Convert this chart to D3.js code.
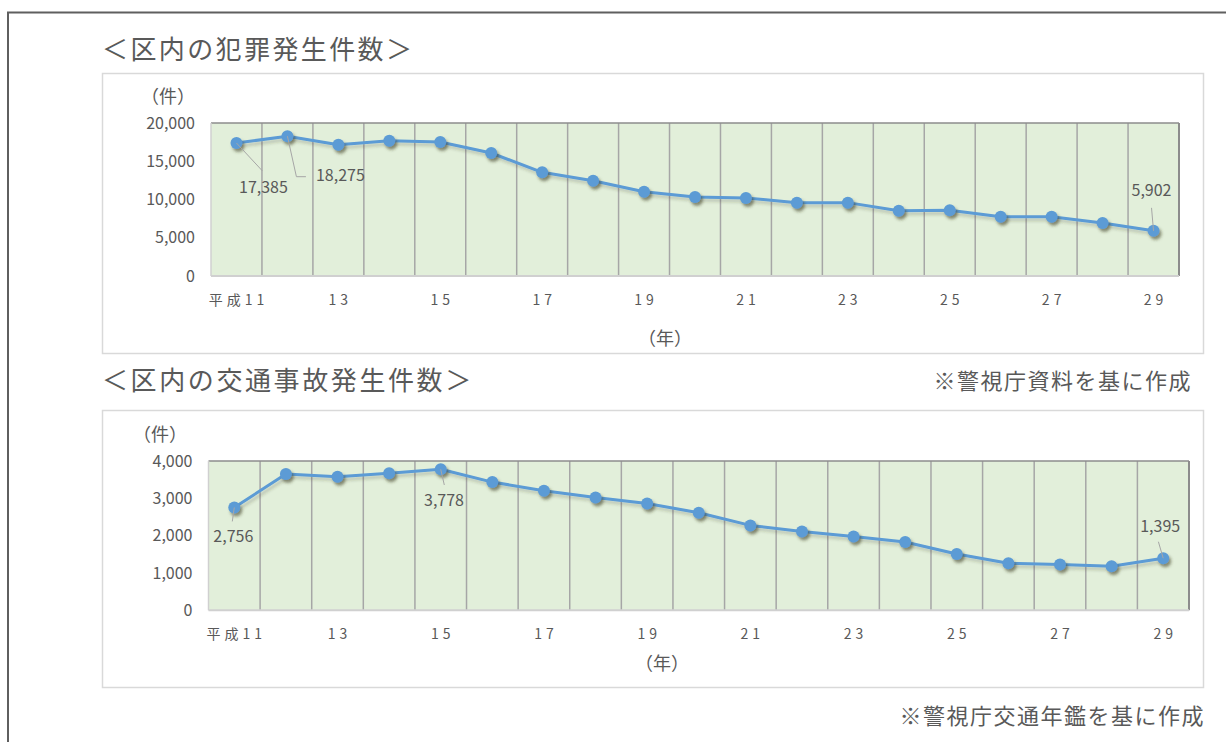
<!DOCTYPE html>
<html lang="ja">
<head>
<meta charset="utf-8">
<script src="https://cdn.jsdelivr.net/npm/d3@7"></script>
<style>
  html, body { margin: 0; padding: 0; background: #ffffff; }
  svg { display: block; }
  text { font-family: "Noto Sans CJK JP", "Noto Sans", sans-serif; fill: #595959; }
</style>
</head>
<body>
<svg id="chart" width="1226" height="742"></svg>
<script>
// Fiscal years (Heisei era) shown on both panels
const years = [11, 12, 13, 14, 15, 16, 17, 18, 19, 20, 21, 22, 23, 24, 25, 26, 27, 28, 29];
const yearTickLabels = ["平成11", "13", "15", "17", "19", "21", "23", "25", "27", "29"];
const yearTickValues = [11, 13, 15, 17, 19, 21, 23, 25, 27, 29];

// Crimes reported in the ward
const crimeCounts = [17385, 18275, 17170, 17690, 17520, 16080, 13550, 12460, 11020, 10330,
                     10200, 9590, 9590, 8540, 8580, 7750, 7750, 6930, 5902];
const crimeTicks = [0, 5000, 10000, 15000, 20000];

// Traffic accidents in the ward
const accidentCounts = [2756, 3650, 3580, 3670, 3778, 3435, 3205, 3025, 2860, 2615,
                        2275, 2110, 1975, 1830, 1510, 1260, 1225, 1180, 1395];
const accidentTicks = [0, 1000, 2000, 3000, 4000];

const svg = d3.select("#chart");
const fmt = d3.format(",");

// soft shadows under the series
const defs = svg.append("defs");
const markerShadow = defs.append("filter").attr("id", "markerShadow")
  .attr("x", "-50%").attr("y", "-50%").attr("width", "200%").attr("height", "200%");
markerShadow.append("feDropShadow").attr("dx", 2).attr("dy", 3).attr("stdDeviation", 1.6)
  .attr("flood-color", "#3a3a20").attr("flood-opacity", 0.55);
const lineShadow = defs.append("filter").attr("id", "lineShadow")
  .attr("x", "-5%").attr("y", "-20%").attr("width", "110%").attr("height", "140%");
lineShadow.append("feDropShadow").attr("dx", 2).attr("dy", 3).attr("stdDeviation", 1.8)
  .attr("flood-color", "#3a3a20").attr("flood-opacity", 0.22);

// outer frame
svg.append("path")
  .attr("d", "M8,745 L8,12.5 L1230,12.5")
  .attr("fill", "none").attr("stroke", "#5f5f5f").attr("stroke-width", 2);

// panel titles and source notes
svg.append("text").attr("x", 102).attr("y", 52).attr("dominant-baseline", "middle")
  .attr("font-size", 26).attr("letter-spacing", 2.4).text("＜区内の犯罪発生件数＞");
svg.append("text").attr("x", 102).attr("y", 383).attr("dominant-baseline", "middle")
  .attr("font-size", 26).attr("letter-spacing", 2.6).text("＜区内の交通事故発生件数＞");
svg.append("text").attr("x", 1192).attr("y", 383).attr("dominant-baseline", "middle")
  .attr("text-anchor", "end").attr("font-size", 22).attr("letter-spacing", 1.5)
  .text("※警視庁資料を基に作成");
svg.append("text").attr("x", 1205).attr("y", 718).attr("dominant-baseline", "middle")
  .attr("text-anchor", "end").attr("font-size", 22).attr("letter-spacing", 1.5)
  .text("※警視庁交通年鑑を基に作成");

function drawPanel(cfg) {
  const g = svg.append("g");
  const b = cfg.box, p = cfg.plot;

  g.append("rect").attr("x", b.x + 0.5).attr("y", b.y + 0.5).attr("width", b.w).attr("height", b.h)
    .attr("fill", "#ffffff").attr("stroke", "#d9d9d9").attr("stroke-width", 1.5);

  const x = d3.scaleBand().domain(years).range([p.x, p.x + p.w]);
  const y = d3.scaleLinear().domain([0, d3.max(cfg.ticks)]).range([p.y + p.h, p.y]);

  // plot area
  g.append("rect").attr("x", p.x).attr("y", p.y).attr("width", p.w).attr("height", p.h)
    .attr("fill", "#e2efda");

  // vertical gridlines at category boundaries
  g.append("g").selectAll("line").data(years.slice(1)).join("line")
    .attr("x1", d => x(d)).attr("x2", d => x(d))
    .attr("y1", p.y).attr("y2", p.y + p.h)
    .attr("stroke", "#a6a6a6").attr("stroke-width", 1.5);

  // plot border: darker top/right, lighter bottom/left
  g.append("line").attr("x1", p.x).attr("x2", p.x + p.w).attr("y1", p.y).attr("y2", p.y)
    .attr("stroke", "#8c8c8c").attr("stroke-width", 1.5);
  g.append("line").attr("x1", p.x + p.w).attr("x2", p.x + p.w).attr("y1", p.y).attr("y2", p.y + p.h)
    .attr("stroke", "#8c8c8c").attr("stroke-width", 2);
  g.append("line").attr("x1", p.x).attr("x2", p.x + p.w).attr("y1", p.y + p.h).attr("y2", p.y + p.h)
    .attr("stroke", "#d0d0d0").attr("stroke-width", 2);
  g.append("line").attr("x1", p.x).attr("x2", p.x).attr("y1", p.y).attr("y2", p.y + p.h)
    .attr("stroke", "#d0d0d0").attr("stroke-width", 1.5);

  // y axis labels
  const yAxis = d3.axisLeft(y).tickValues(cfg.ticks).tickFormat(fmt).tickSize(0).tickPadding(16);
  const ya = g.append("g").attr("transform", `translate(${p.x},0)`).call(yAxis);
  ya.select(".domain").remove();
  ya.selectAll("text").attr("font-size", 16).attr("fill", "#595959")
    .style("font-family", "'Noto Sans CJK JP', sans-serif");

  // x axis labels (every other year)
  const xAxis = d3.axisBottom(x).tickValues(yearTickValues)
    .tickFormat((d, i) => yearTickLabels[i]).tickSize(0).tickPadding(0);
  const xa = g.append("g").attr("transform", `translate(0,${cfg.xTickY})`).call(xAxis);
  xa.select(".domain").remove();
  xa.selectAll("text").attr("font-size", 14).attr("fill", "#595959")
    .attr("letter-spacing", 4).attr("dy", "0.35em").attr("y", 0)
    .attr("dx", 2)
    .style("font-family", "'Noto Sans CJK JP', sans-serif");

  // axis unit captions
  g.append("text").attr("x", cfg.unitY[0]).attr("y", cfg.unitY[1])
    .attr("text-anchor", "middle").attr("dominant-baseline", "middle")
    .attr("font-size", 18).text("（件）");
  g.append("text").attr("x", cfg.unitX[0]).attr("y", cfg.unitX[1])
    .attr("text-anchor", "middle").attr("dominant-baseline", "middle")
    .attr("font-size", 18).text("（年）");

  const cx = (d, i) => x(years[i]) + x.bandwidth() / 2;
  const cy = d => y(d);

  // series line and markers
  g.append("path").datum(cfg.values)
    .attr("d", d3.line().x(cx).y(cy))
    .attr("fill", "none").attr("stroke", "#5b9bd5").attr("stroke-width", 3)
    .attr("stroke-linejoin", "round").attr("filter", "url(#lineShadow)");
  g.append("g").attr("filter", "url(#markerShadow)")
    .selectAll("circle").data(cfg.values).join("circle")
    .attr("cx", cx).attr("cy", cy).attr("r", 6).attr("fill", "#5b9bd5");

  // data labels with leader lines
  cfg.labels.forEach(l => {
    const v = cfg.values[l.i];
    const px = cx(v, l.i), py = cy(v);
    const pts = [[px, py]].concat(l.leader.map(o => [px + o[0], py + o[1]]));
    g.append("path").attr("d", d3.line()(pts))
      .attr("fill", "none").attr("stroke", "#a6a6a6").attr("stroke-width", 1);
    g.append("text").attr("x", px + l.dx).attr("y", py + l.dy)
      .attr("text-anchor", "middle").attr("dominant-baseline", "middle")
      .attr("font-size", 16).text(fmt(v));
  });
}

drawPanel({
  box: { x: 102, y: 73, w: 1101, h: 280 },
  plot: { x: 211, y: 123, w: 968, h: 153 },
  values: crimeCounts,
  ticks: crimeTicks,
  xTickY: 300,
  unitY: [168, 98],
  unitX: [665, 340],
  labels: [
    { i: 0, dx: 27, dy: 46, leader: [[26, 28]] },
    { i: 1, dx: 53, dy: 40.5, leader: [[9, 40.5], [18.5, 40.5]] },
    { i: 18, dx: -2, dy: -39, leader: [[-2, -23]] }
  ]
});

drawPanel({
  box: { x: 102, y: 410, w: 1101, h: 277 },
  plot: { x: 208.5, y: 461, w: 980.5, h: 149.3 },
  values: accidentCounts,
  ticks: accidentTicks,
  xTickY: 634,
  unitY: [160, 436],
  unitX: [662, 665],
  labels: [
    { i: 0, dx: -1, dy: 30.5, leader: [[-2, 14]] },
    { i: 4, dx: 3.3, dy: 32.7, leader: [[3.6, 15.7]] },
    { i: 18, dx: -3, dy: -31, leader: [[-4.8, -16.5]] }
  ]
});
</script>
</body>
</html>
